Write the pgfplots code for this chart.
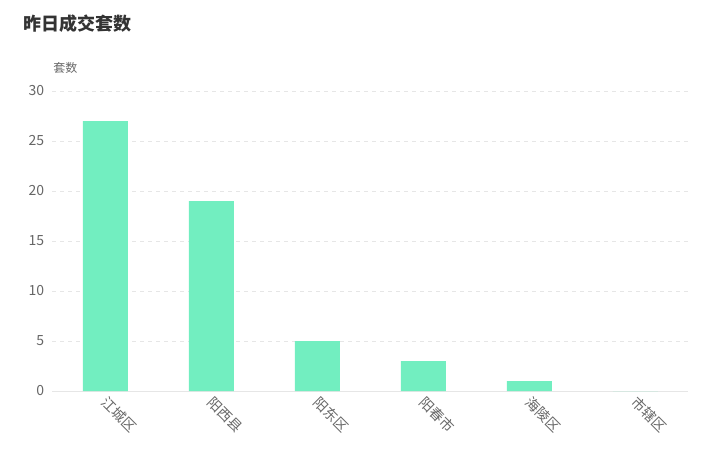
\documentclass[border=0pt]{standalone}
\usepackage{pgfplots}
\pgfplotsset{compat=1.18}
\usepackage{fontspec}
\setmainfont{Noto Sans CJK SC}
\definecolor{barc}{HTML}{72EEC0}
\definecolor{gridc}{HTML}{E6E6E6}
\definecolor{txt}{HTML}{666666}
\definecolor{ttl}{HTML}{333333}
\begin{document}
\begin{tikzpicture}[x=0.75pt,y=0.75pt]
\path[use as bounding box] (0,0) rectangle (720,462);
\node[anchor=west,font=\fontsize{13.5}{15}\selectfont\bfseries,text=ttl,inner sep=0pt] at (23,462-24) {昨日成交套数};
\node[anchor=west,font=\fontsize{9}{10}\selectfont,text=txt,inner sep=0pt] at (53,462-68) {套数};
\begin{axis}[
  at={(49.5,71)}, anchor=south west,
  scale only axis, width=636*0.75pt, height=300*0.75pt,
  xmin=-0.5, xmax=5.5, ymin=0, ymax=30,
  ytick={0,5,10,15,20,25,30},
  xtick={0,1,2,3,4,5},
  xticklabels={江城区,阳西县,阳东区,阳春市,海陵区,市辖区},
  axis x line*=bottom, axis y line*=left,
  x axis line style={draw=gridc, line width=0.75pt, -},
  y axis line style={draw=none},
  major tick length=0pt,
  ymajorgrids, grid style={dashed, draw=gridc, line width=0.75pt},
  xticklabel style={rotate=-45, anchor=west, inner sep=0pt, yshift=-5.5pt, xshift=4pt, font=\fontsize{10.5}{12}\selectfont, text=txt},
  yticklabel style={font=\fontsize{10.5}{12}\selectfont, text=txt, inner sep=0pt, xshift=-6pt},
  /pgf/number format/assume math mode=true,
  ybar, bar width=45*0.75pt,
  clip=false,
]
\addplot[fill=barc, draw=none] coordinates {(0,27) (1,19) (2,5) (3,3) (4,1) (5,0)};
\end{axis}
\end{tikzpicture}
\end{document}
